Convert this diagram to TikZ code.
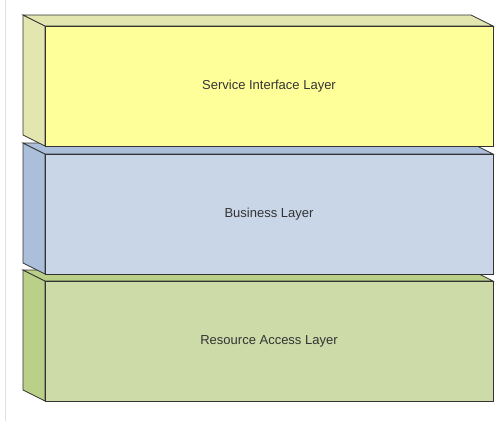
\documentclass[tikz,border=0pt]{standalone}
\usepackage{fontspec}
\setmainfont{Liberation Sans}
\definecolor{yfront}{HTML}{FFFF99}
\definecolor{yside}{HTML}{E3E6AE}
\definecolor{bfront}{HTML}{C9D6E8}
\definecolor{bside}{HTML}{ABBFDA}
\definecolor{gfront}{HTML}{CDDBA9}
\definecolor{gside}{HTML}{BACF88}
\definecolor{edgegray}{HTML}{333333}
\definecolor{rulegray}{HTML}{E2E2E2}

\begin{document}
\begin{tikzpicture}[x=1pt,y=-1pt,
    edge/.style={draw=edgegray,line width=0.8pt,line join=miter},
    layername/.style={text=edgegray,font=\fontsize{13}{15}\selectfont}]
    \useasboundingbox (0,0) rectangle (504,421);
    \draw[rulegray,line width=1pt] (5,0) to (5,421);
    % bottom layer
    \begin{scope}[shift={(45,281)}]
      \draw[edge,fill=gside] (0,0) -- (-22,-11) -- (-22,109) -- (0,120) -- cycle;
      \draw[edge,fill=gside] (0,0) -- (-22,-11) -- (426,-11) -- (448,0) -- cycle;
      \draw[edge,fill=gfront] (0,0) rectangle (448,120);
      \node[layername] (res) at (224,60) {Resource Access Layer};
    \end{scope}
    % middle layer
    \begin{scope}[shift={(45,154)}]
      \draw[edge,fill=bside] (0,0) -- (-22,-11) -- (-22,109) -- (0,120) -- cycle;
      \draw[edge,fill=bside] (0,0) -- (-22,-11) -- (426,-11) -- (448,0) -- cycle;
      \draw[edge,fill=bfront] (0,0) rectangle (448,120);
      \node[layername] (biz) at (224,60) {Business Layer};
    \end{scope}
    % top layer
    \begin{scope}[shift={(45,26)}]
      \draw[edge,fill=yside] (0,0) -- (-22,-11) -- (-22,109) -- (0,120) -- cycle;
      \draw[edge,fill=yside] (0,0) -- (-22,-11) -- (426,-11) -- (448,0) -- cycle;
      \draw[edge,fill=yfront] (0,0) rectangle (448,120);
      \node[layername] (svc) at (224,60) {Service Interface Layer};
    \end{scope}
\end{tikzpicture}
\end{document}
